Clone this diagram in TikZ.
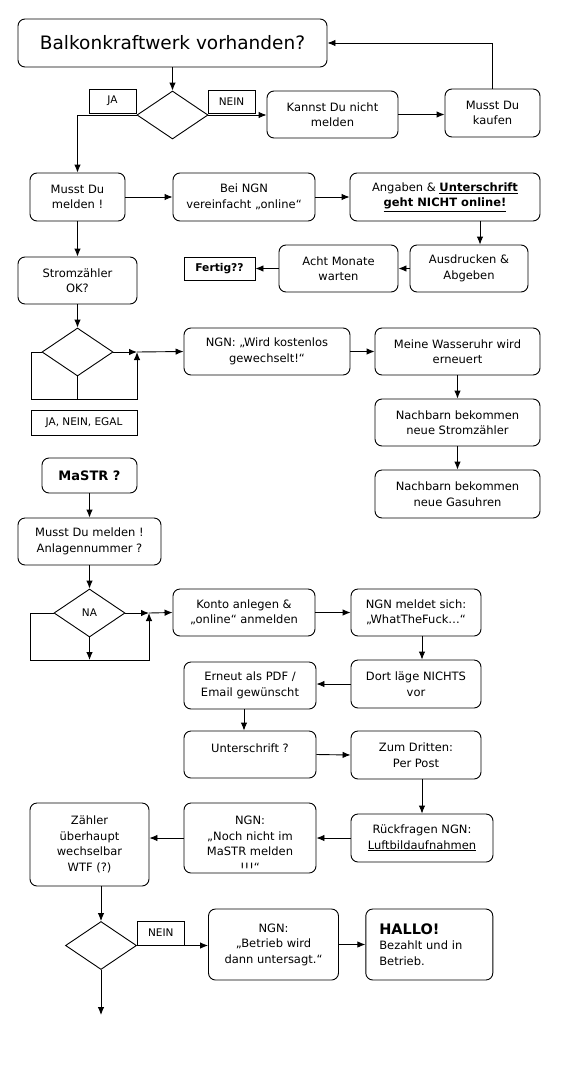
\documentclass[tikz,border=0pt]{standalone}
\usepackage{fontspec}
\setmainfont{DejaVu Sans}
\usetikzlibrary{arrows.meta}
\usetikzlibrary{shapes.geometric}

\tikzset{
  box/.style={draw, rounded corners=7pt, align=center, inner sep=2pt, font=\fontsize{11.5}{15.5}\selectfont},
  tag/.style={draw, inner sep=0pt, font=\fontsize{10.5}{12}\selectfont},
  choice/.style={draw, diamond, minimum width=71pt, minimum height=48pt, inner sep=0pt, font=\fontsize{10.5}{12}\selectfont},
  arr/.style={-{Latex[length=8pt,width=6.5pt]}},
}

\begin{document}
\begin{tikzpicture}[x=1pt, y=-1pt, line width=0.9pt]
\path[fill=white, use as bounding box] (0,0) rectangle (579,1079);

% first question
\node[box, font=\fontsize{18.5}{22}\selectfont, minimum width=309pt, minimum height=48pt] (balkon) at (172.5,43) {Balkonkraftwerk vorhanden?};
\node[choice] (dia1) at (172.5,115) {};
\node[tag, minimum width=47pt, minimum height=24pt] (ja1) at (112.5,101) {JA};
\node[tag, minimum width=47pt, minimum height=23pt] (nein1) at (231.5,101.5) {NEIN};
\node[box, minimum width=131pt, minimum height=47pt] (kannst) at (332.5,114.5) {Kannst Du nicht\\melden};
\node[box, minimum width=95pt, minimum height=48pt] (kaufen) at (492.5,113) {Musst Du\\kaufen};

\node[box, minimum width=95pt, minimum height=48pt] (melden) at (77.5,197) {Musst Du\\melden !};
\node[box, minimum width=142pt, minimum height=48pt] (ngn1) at (244,197) {Bei NGN\\vereinfacht „online“};
\node[box, minimum width=190pt, minimum height=48pt] (angaben) at (445,197) {Angaben \& \textbf{\underline{Unterschrift}}\\\textbf{\underline{geht NICHT online!}}};
\node[box, minimum width=118pt, minimum height=47pt] (ausdr) at (469,268.5) {Ausdrucken \&\\Abgeben};
\node[box, minimum width=119pt, minimum height=47pt] (acht) at (338.5,268.5) {Acht Monate\\warten};
\node[tag, font=\fontsize{10.7}{12}\selectfont\bfseries, minimum width=71pt, minimum height=23pt] (fertig) at (219.5,268.5) {Fertig??};

% meter
\node[box, minimum width=119pt, minimum height=47pt] (strom) at (77.5,280.5) {Stromzähler\\OK?};
\node[choice] (dia2) at (77.5,352) {};
\coordinate (l2) at (31,399);
\coordinate (j2) at (137,352);
\node[tag, minimum width=106pt, minimum height=25pt] (egal) at (84,422.5) {JA, NEIN, EGAL};
\node[box, minimum width=166pt, minimum height=47pt] (ngn2) at (267,351.5) {NGN: „Wird kostenlos\\gewechselt!“};
\node[box, minimum width=165pt, minimum height=47pt] (wasser) at (457.5,351.5) {Meine Wasseruhr wird\\erneuert};
\node[box, minimum width=165pt, minimum height=47pt] (nach1) at (457.5,422.5) {Nachbarn bekommen\\neue Stromzähler};
\node[box, minimum width=165pt, minimum height=48pt] (nach2) at (457.5,494) {Nachbarn bekommen\\neue Gasuhren};

% register
\node[box, font=\fontsize{13}{15}\selectfont\bfseries, minimum width=95pt, minimum height=35pt] (mastr) at (89.5,475.5) {MaSTR ?};
\node[box, minimum width=143pt, minimum height=47pt] (anlagen) at (89.5,541.5) {Musst Du melden !\\Anlagennummer ?};
\node[choice] (dia3) at (89.5,613) {NA};
\coordinate (l3) at (30,660);
\coordinate (j3) at (149,613);
\node[box, minimum width=142pt, minimum height=47pt] (konto) at (244,612.5) {Konto anlegen \&\\„online“ anmelden};
\node[box, minimum width=130pt, minimum height=47pt] (wtf) at (416,612.5) {NGN meldet sich:\\„WhatTheFuck…“};
\node[box, minimum width=130pt, minimum height=48pt] (dort) at (416,684) {Dort läge NICHTS\\vor};
\node[box, minimum width=132pt, minimum height=47pt] (erneut) at (250,685.5) {Erneut als PDF /\\Email gewünscht};
\node[box, text depth=13pt, minimum width=132pt, minimum height=47pt] (unter) at (250,754.5) {Unterschrift ?};
\node[box, minimum width=130pt, minimum height=48pt] (dritten) at (416,755) {Zum Dritten:\\Per Post};
\node[box, minimum width=142pt, minimum height=48pt] (rueck) at (422,838) {Rückfragen NGN:\\\underline{Luftbildaufnahmen}};
\node[box, minimum width=132pt, minimum height=70pt] (ngn3) at (250,838) {};
\begin{scope}
\clip (ngn3.north west) rectangle ([yshift=5pt]ngn3.south east);
\node[align=center, inner sep=0pt, anchor=north, font=\fontsize{11.5}{15.5}\selectfont] (ngn3text) at ([yshift=-13pt]ngn3.north) {NGN:\\„Noch nicht im\\MaSTR melden\\!!!“};
\end{scope}
\node[box, minimum width=119pt, minimum height=83pt] (zaehler) at (89.5,844.5) {Zähler\\überhaupt\\wechselbar\\WTF (?)};
\node[choice] (dia4) at (101,945.5) {};
\node[tag, minimum width=47.5pt, minimum height=24pt] (nein4) at (160.75,933) {NEIN};
\node[box, minimum width=130pt, minimum height=71pt] (betrieb) at (273.5,944.5) {NGN:\\„Betrieb wird\\dann untersagt.“};
\node[box, align=left, text width=100pt, minimum width=127pt, minimum height=71pt] (hallo) at (429.3,944.5) {{\bfseries\fontsize{14.5}{17}\selectfont HALLO!}\\Bezahlt und in\\Betrieb.};
\coordinate (fin) at (101,1015);

% connectors
\draw[arr] (balkon.south) -- (dia1.north);
\draw[arr] (dia1.west) -| (melden.north);
\draw[arr] (dia1.east) -- (dia1.east -| kannst.west);
\draw[arr] (kannst.east) -- (kannst.east -| kaufen.west);
\draw[arr] (kaufen.north) |- (balkon.east);
\draw[arr] (melden.east) -- (ngn1.west);
\draw[arr] (ngn1.east) -- (angaben.west);
\draw[arr] ([xshift=35pt]angaben.south) -- ([xshift=35pt]angaben.south |- ausdr.north);
\draw[arr] (ausdr.west) -- (acht.east);
\draw[arr] (acht.west) -- (fertig.east);
\draw[arr] (melden.south) -- (strom.north);
\draw[arr] (strom.south) -- (dia2.north);
\draw[arr] (dia2.west) -| (l2) -| (j2);
\draw (dia2.south) -- (dia2.south |- l2);
\draw[arr] (dia2.east) -- (j2);
\draw[arr] (j2) -- (ngn2.west);
\draw[arr] (ngn2.east) -- (wasser.west);
\draw[arr] (wasser.south) -- (nach1.north);
\draw[arr] (nach1.south) -- (nach2.north);

\draw[arr] (mastr.south) -- (anlagen.north);
\draw[arr] (anlagen.south) -- (dia3.north);
\draw[arr] (dia3.west) -| (l3) -| (j3);
\draw[arr] (dia3.south) -- (dia3.south |- l3);
\draw[arr] (dia3.east) -- (j3);
\draw[arr] (j3) -- (konto.west);
\draw[arr] (konto.east) -- (wtf.west);
\draw[arr] ([xshift=6pt]wtf.south) -- ([xshift=6pt]dort.north);
\draw[arr] (dort.west) -- (dort.west -| erneut.east);
\draw[arr] ([xshift=-6pt]erneut.south) -- ([xshift=-6pt]unter.north);
\draw[arr] (unter.east) -- (dritten.west);
\draw[arr] (dritten.south -| rueck.north) -- (rueck.north);
\draw[arr] (rueck.west) -- (ngn3.east);
\draw[arr] (ngn3.west) -- (ngn3.west -| zaehler.east);
\draw[arr] (dia4.north |- zaehler.south) -- (dia4.north);
\draw[arr] (dia4.east) -- (dia4.east -| betrieb.west);
\draw[arr] (betrieb.east) -- (hallo.west);
\draw[arr] (dia4.south) -- (fin);
\end{tikzpicture}
\end{document}
